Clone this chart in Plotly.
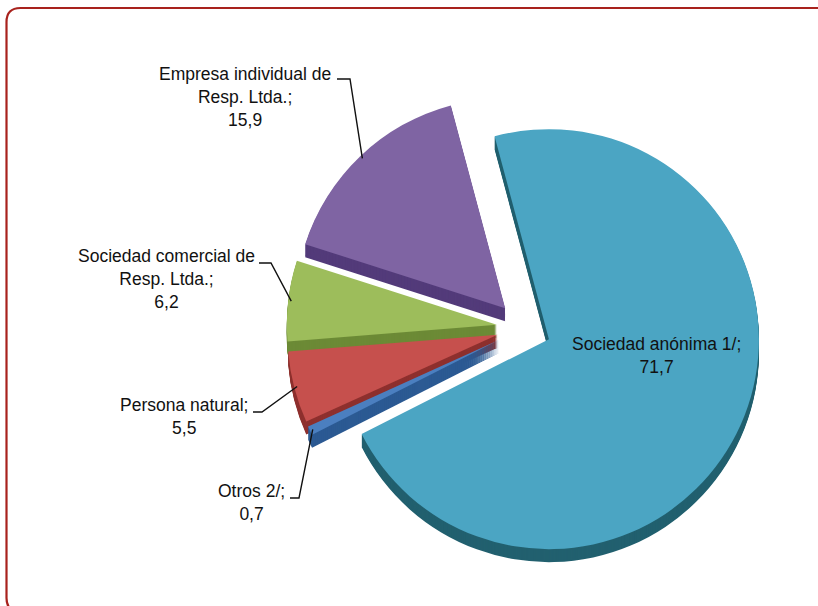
import math
import plotly.graph_objects as go

# ---------------- data ----------------
categories = [
    "Sociedad anónima 1/",
    "Otros 2/",
    "Persona natural",
    "Sociedad comercial de<br>Resp. Ltda.",
    "Empresa individual de<br>Resp. Ltda.",
]
shares = [71.7, 0.7, 5.5, 6.2, 15.9]

face_colors = ["#4ba5c3", "#4b7fc0", "#c6504d", "#9dbd5b", "#7f64a3"]
side_colors = ["#22606f", "#2c5a93", "#8e302e", "#6c8a36", "#533b7a"]

# ---------------- geometry / style ----------------
OFF = 0
W, H = 818, 606
CX, CY, R = 524, 328, 210          # in page pixels
PULL = 0.13
ROT = -15
DEPTH = 13
FONT = "Liberation Sans, Arial, sans-serif"
FSIZE = 17.5


def px_x(x):
    return (x - OFF) / W


def px_y(y):
    return 1 - (y - OFF) / H


def domain(cy):
    half = R * (1 + PULL)
    return dict(x=[px_x(CX - half), px_x(CX + half)],
                y=[px_y(cy + half), px_y(cy - half)])


fig = go.Figure()

# 3D side (stacked darker copies shifted downward)
for k in range(DEPTH, 0, -1):
    fig.add_trace(go.Pie(
        labels=categories, values=shares, sort=False, direction="clockwise",
        rotation=ROT, pull=[PULL] * len(shares), domain=domain(CY + k),
        marker=dict(colors=side_colors, line=dict(width=0)),
        textinfo="none", hoverinfo="skip", showlegend=False,
    ))

# top face
fig.add_trace(go.Pie(
    labels=categories, values=shares, sort=False, direction="clockwise",
    rotation=ROT, pull=[PULL] * len(shares), domain=domain(CY),
    marker=dict(colors=face_colors, line=dict(width=0)),
    textinfo="none", showlegend=False,
))

# ---------------- labels ----------------
def fmt(v):
    return f"{v:.1f}".replace(".", ",")

# label centre (page px) and elbow start/end (page px); None = no leader
label_centres = [(656, 355), (252, 502), (184, 417), (166, 279), (245, 97)]
elbows = [None, ((290, 498), (299, 498)), ((253, 412), (262, 412)),
          ((259, 263), (271, 263)), ((337, 79), (350, 79))]

total = sum(shares)
annotations = []
shapes = []
cum = 0.0
for i, v in enumerate(shares):
    start = ROT + 360 * cum / total
    mid = math.radians(start + 360 * v / total / 2)
    cum += v
    cx, cy = label_centres[i]
    annotations.append(dict(
        x=px_x(cx), y=px_y(cy), xref="paper", yref="paper",
        text=f"{categories[i]};<br>{fmt(v)}", showarrow=False,
        xanchor="center", yanchor="middle", align="center",
        font=dict(family=FONT, size=FSIZE, color="#111111"),
    ))
    if elbows[i] is not None:
        rr = R * (1 + PULL) - 3
        ax = CX + rr * math.sin(mid)
        ay = CY - rr * math.cos(mid)
        (x0, y0), (x1, y1) = elbows[i]
        path = (f"M {px_x(x0)},{px_y(y0)} L {px_x(x1)},{px_y(y1)} "
                f"L {px_x(ax)},{px_y(ay)}")
        shapes.append(dict(type="path", xref="paper", yref="paper", path=path,
                           line=dict(color="#111111", width=1.4)))

# rounded frame (page px)
fr = 14
L, T, B, RR = 6.5, 8, 612, 830
frame = (f"M {px_x(L)},{px_y(B - fr)} L {px_x(L)},{px_y(T + fr)} "
         f"Q {px_x(L)},{px_y(T)} {px_x(L + fr)},{px_y(T)} "
         f"L {px_x(RR)},{px_y(T)} "
         f"M {px_x(L)},{px_y(B - fr)} Q {px_x(L)},{px_y(B)} {px_x(L + fr)},{px_y(B)}")
shapes.append(dict(type="path", xref="paper", yref="paper", path=frame,
                   line=dict(color="#a8221d", width=2.2)))

fig.update_layout(
    width=W, height=H, margin=dict(l=0, r=0, t=0, b=0),
    paper_bgcolor="white", plot_bgcolor="white",
    annotations=annotations, shapes=shapes, showlegend=False,
    font=dict(family=FONT, size=FSIZE, color="#111111"),
)

fig.write_html(
    "out.html",
    config={"displayModeBar": False},
    post_script="document.body.style.margin='0';document.body.style.overflow='hidden';",
)
